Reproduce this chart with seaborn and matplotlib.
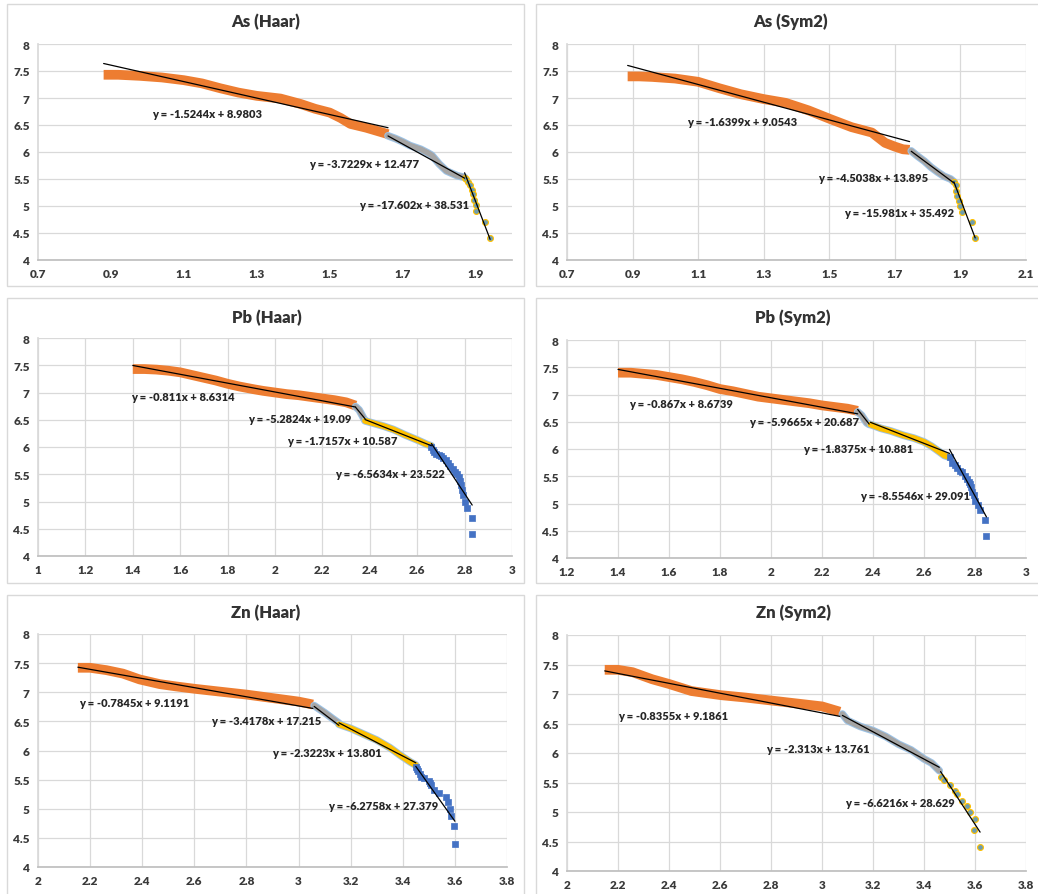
import matplotlib
matplotlib.use("Agg")
import matplotlib.pyplot as plt
from matplotlib.patches import Rectangle
import seaborn as sns
import numpy as np

sns.set_theme(style="white")
plt.rcParams['font.family'] = ['Lato', 'DejaVu Sans']

# ---------------- data ----------------
# As (Haar)
as_haar_s1_x = [0.88, 0.92, 0.98, 1.04, 1.1, 1.15, 1.2, 1.25, 1.3, 1.365, 1.42, 1.46, 1.5, 1.53, 1.557, 1.6, 1.63, 1.66]
as_haar_s1_y = [7.43, 7.43, 7.41, 7.38, 7.33, 7.27, 7.18, 7.10, 7.04, 6.99, 6.89, 6.80, 6.73, 6.63, 6.52, 6.45, 6.39, 6.33]
as_haar_s2_x = [1.66, 1.68, 1.7, 1.72, 1.75, 1.77, 1.78, 1.8, 1.82, 1.85, 1.87]
as_haar_s2_y = [6.30, 6.25, 6.19, 6.12, 6.05, 5.98, 5.94, 5.78, 5.65, 5.56, 5.53]
as_haar_s3_x = [1.87, 1.875, 1.88, 1.885, 1.89, 1.893, 1.895, 1.9, 1.9, 1.925, 1.94]
as_haar_s3_y = [5.52, 5.50, 5.45, 5.38, 5.30, 5.22, 5.12, 5.02, 4.90, 4.70, 4.40]
as_haar_slopes = [-1.5244, -3.7229, -17.602]
as_haar_intercepts = [8.9803, 12.477, 38.531]

# As (Sym2)
as_sym2_s1_x = [0.885, 0.92, 0.96, 1.03, 1.1, 1.165, 1.23, 1.3, 1.367, 1.437, 1.503, 1.568, 1.63, 1.67, 1.7, 1.725, 1.745]
as_sym2_s1_y = [7.40, 7.40, 7.39, 7.36, 7.30, 7.18, 7.07, 6.98, 6.91, 6.77, 6.61, 6.46, 6.36, 6.17, 6.10, 6.05, 6.04]
as_sym2_s2_x = [1.75, 1.77, 1.79, 1.81, 1.83, 1.85, 1.87, 1.88]
as_sym2_s2_y = [6.02, 5.92, 5.83, 5.72, 5.63, 5.55, 5.50, 5.45]
as_sym2_s3_x = [1.88, 1.885, 1.888, 1.89, 1.895, 1.9, 1.905, 1.935, 1.945]
as_sym2_s3_y = [5.45, 5.38, 5.28, 5.18, 5.10, 5.00, 4.88, 4.70, 4.40]
as_sym2_slopes = [-1.6399, -4.5038, -15.981]
as_sym2_intercepts = [9.0543, 13.895, 35.492]

# Pb (Haar)
pb_haar_s1_x = [1.40, 1.45, 1.5, 1.55, 1.6, 1.65, 1.7, 1.75, 1.8, 1.85, 1.91, 1.95, 2.0, 2.05, 2.1, 2.15, 2.2, 2.25, 2.3, 2.34]
pb_haar_s1_y = [7.43, 7.43, 7.42, 7.40, 7.37, 7.32, 7.27, 7.22, 7.16, 7.11, 7.06, 7.03, 7.00, 6.97, 6.95, 6.92, 6.89, 6.86, 6.82, 6.76]
pb_haar_s2_x = [2.34, 2.355, 2.365, 2.375, 2.38]
pb_haar_s2_y = [6.74, 6.68, 6.60, 6.52, 6.49]
pb_haar_s3_x = [2.38, 2.42, 2.46, 2.5, 2.55, 2.6, 2.64, 2.66]
pb_haar_s3_y = [6.48, 6.43, 6.38, 6.32, 6.22, 6.13, 6.05, 6.02]
pb_haar_s4_x = [2.66, 2.665, 2.67, 2.68, 2.69, 2.70, 2.71, 2.72, 2.73, 2.74, 2.75, 2.76, 2.77, 2.775, 2.78, 2.785, 2.79, 2.795, 2.80, 2.81, 2.83, 2.832]
pb_haar_s4_y = [6.00, 5.95, 5.90, 5.87, 5.85, 5.83, 5.80, 5.76, 5.70, 5.65, 5.60, 5.55, 5.50, 5.45, 5.38, 5.30, 5.22, 5.12, 5.00, 4.88, 4.70, 4.40]
pb_haar_slopes = [-0.811, -5.2824, -1.7157, -6.5634]
pb_haar_intercepts = [8.6314, 19.09, 10.587, 23.522]

# Pb (Sym2)
pb_sym2_s1_x = [1.40, 1.45, 1.5, 1.55, 1.6, 1.65, 1.7, 1.75, 1.8, 1.85, 1.9, 1.95, 2.0, 2.05, 2.1, 2.15, 2.2, 2.25, 2.3, 2.34]
pb_sym2_s1_y = [7.40, 7.40, 7.38, 7.36, 7.32, 7.28, 7.23, 7.17, 7.10, 7.06, 7.01, 6.96, 6.93, 6.90, 6.87, 6.84, 6.80, 6.77, 6.74, 6.70]
pb_sym2_s2_x = [2.34, 2.355, 2.365, 2.375, 2.385]
pb_sym2_s2_y = [6.68, 6.62, 6.55, 6.48, 6.45]
pb_sym2_s3_x = [2.39, 2.43, 2.47, 2.52, 2.56, 2.6, 2.63, 2.66, 2.68, 2.70]
pb_sym2_s3_y = [6.45, 6.38, 6.33, 6.25, 6.20, 6.13, 6.05, 5.95, 5.88, 5.85]
pb_sym2_s4_x = [2.70, 2.71, 2.72, 2.73, 2.74, 2.75, 2.76, 2.77, 2.775, 2.78, 2.785, 2.79, 2.795, 2.80, 2.81, 2.82, 2.84, 2.845]
pb_sym2_s4_y = [5.85, 5.75, 5.70, 5.65, 5.60, 5.57, 5.50, 5.45, 5.40, 5.35, 5.30, 5.22, 5.15, 5.05, 4.98, 4.88, 4.70, 4.40]
pb_sym2_slopes = [-0.867, -5.9665, -1.8375, -8.5546]
pb_sym2_intercepts = [8.6739, 20.687, 10.881, 29.091]

# Zn (Haar)
zn_haar_s1_x = [2.153, 2.2, 2.262, 2.326, 2.39, 2.467, 2.53, 2.6, 2.7, 2.8, 2.9, 3.0, 3.055]
zn_haar_s1_y = [7.42, 7.42, 7.38, 7.32, 7.22, 7.14, 7.10, 7.06, 7.01, 6.96, 6.90, 6.84, 6.79]
zn_haar_s2_x = [3.06, 3.08, 3.1, 3.13, 3.155]
zn_haar_s2_y = [6.77, 6.71, 6.65, 6.55, 6.47]
zn_haar_s3_x = [3.155, 3.2, 3.25, 3.3, 3.35, 3.39, 3.43, 3.45]
zn_haar_s3_y = [6.45, 6.38, 6.28, 6.18, 6.05, 5.92, 5.80, 5.75]
zn_haar_s4_x = [3.45, 3.455, 3.46, 3.465, 3.47, 3.48, 3.5, 3.505, 3.51, 3.52, 3.54, 3.565, 3.575, 3.58, 3.585, 3.595, 3.6]
zn_haar_s4_y = [5.72, 5.68, 5.65, 5.60, 5.55, 5.52, 5.48, 5.44, 5.40, 5.33, 5.27, 5.20, 5.12, 5.00, 4.88, 4.70, 4.40]
zn_haar_slopes = [-0.7845, -3.4178, -2.3223, -6.2758]
zn_haar_intercepts = [9.1191, 17.215, 13.801, 27.379]

# Zn (Sym2)
zn_sym2_s1_x = [2.148, 2.2, 2.257, 2.334, 2.4, 2.488, 2.604, 2.7, 2.8, 2.9, 3.0, 3.07]
zn_sym2_s1_y = [7.41, 7.41, 7.37, 7.25, 7.17, 7.05, 6.98, 6.94, 6.89, 6.84, 6.79, 6.70]
zn_sym2_s2_x = [3.08, 3.1, 3.15, 3.2, 3.25, 3.3, 3.35, 3.4, 3.43, 3.46]
zn_sym2_s2_y = [6.66, 6.55, 6.45, 6.38, 6.28, 6.15, 6.05, 5.90, 5.83, 5.70]
zn_sym2_s3_x = [3.465, 3.48, 3.5, 3.52, 3.53, 3.55, 3.57, 3.58, 3.6, 3.595, 3.62]
zn_sym2_s3_y = [5.60, 5.55, 5.45, 5.35, 5.30, 5.18, 5.10, 5.00, 4.88, 4.70, 4.40]
zn_sym2_slopes = [-0.8355, -2.313, -6.6216]
zn_sym2_intercepts = [9.1861, 13.761, 28.629]

titles = ["As (Haar)", "As (Sym2)", "Pb (Haar)", "Pb (Sym2)", "Zn (Haar)", "Zn (Sym2)"]
x_ticks_as_haar = [0.7, 0.9, 1.1, 1.3, 1.5, 1.7, 1.9]
x_ticks_as_sym2 = [0.7, 0.9, 1.1, 1.3, 1.5, 1.7, 1.9, 2.1]
x_ticks_pb_haar = [1, 1.2, 1.4, 1.6, 1.8, 2, 2.2, 2.4, 2.6, 2.8, 3]
x_ticks_pb_sym2 = [1.2, 1.4, 1.6, 1.8, 2, 2.2, 2.4, 2.6, 2.8, 3]
x_ticks_zn = [2, 2.2, 2.4, 2.6, 2.8, 3, 3.2, 3.4, 3.6, 3.8]
y_ticks = [4, 4.5, 5, 5.5, 6, 6.5, 7, 7.5, 8]

# ---------------- styling / layout ----------------
ORANGE = "#ED7D31"
GRAY = "#A5A5A5"
YELLOW = "#FFC000"
BLUE = "#4472C4"
LBLUE = "#9DC3E6"
TEAL = "#6E9DAE"
W, H = 1038, 895

fig = plt.figure(figsize=(W / 100, H / 100), dpi=100)
fig.patch.set_facecolor("white")

def fig_rect(l, t, r, b):
    return [l / W, 1 - b / H, (r - l) / W, (b - t) / H]

panels = [
    dict(title=titles[0], box=(7, 5, 524, 287), title_xy=(266, 22), ax=(38, 45, 512, 261),
         xlim=(0.7, 2.0), xticks=x_ticks_as_haar, vgrid=False,
         series=[(as_haar_s1_x, as_haar_s1_y, "orange"), (as_haar_s2_x, as_haar_s2_y, "gray"),
                 (as_haar_s3_x, as_haar_s3_y, "teal")],
         slopes=as_haar_slopes, intercepts=as_haar_intercepts,
         labels=[(1.163, 6.72), (1.595, 5.79), (1.732, 5.02)]),
    dict(title=titles[1], box=(536, 5, 1045, 287), title_xy=(791, 22), ax=(567, 45, 1026, 261),
         xlim=(0.7, 2.1), xticks=x_ticks_as_sym2, vgrid=True,
         series=[(as_sym2_s1_x, as_sym2_s1_y, "orange"), (as_sym2_s2_x, as_sym2_s2_y, "gray"),
                 (as_sym2_s3_x, as_sym2_s3_y, "teal")],
         slopes=as_sym2_slopes, intercepts=as_sym2_intercepts,
         labels=[(1.235, 6.57), (1.634, 5.52), (1.712, 4.88)]),
    dict(title=titles[2], box=(7, 299, 524, 584), title_xy=(267, 318), ax=(38, 339, 512, 557),
         xlim=(1, 3), xticks=x_ticks_pb_haar, vgrid=True,
         series=[(pb_haar_s1_x, pb_haar_s1_y, "orange"), (pb_haar_s2_x, pb_haar_s2_y, "gray"),
                 (pb_haar_s3_x, pb_haar_s3_y, "yellow"), (pb_haar_s4_x, pb_haar_s4_y, "blue")],
         slopes=pb_haar_slopes, intercepts=pb_haar_intercepts,
         labels=[(1.613, 6.92), (2.103, 6.52), (2.282, 6.12), (2.486, 5.52)]),
    dict(title=titles[3], box=(536, 299, 1045, 584), title_xy=(793, 318), ax=(567, 341, 1026, 559),
         xlim=(1.2, 3), xticks=x_ticks_pb_sym2, vgrid=True,
         series=[(pb_sym2_s1_x, pb_sym2_s1_y, "orange"), (pb_sym2_s2_x, pb_sym2_s2_y, "gray"),
                 (pb_sym2_s3_x, pb_sym2_s3_y, "yellow"), (pb_sym2_s4_x, pb_sym2_s4_y, "blue")],
         slopes=pb_sym2_slopes, intercepts=pb_sym2_intercepts,
         labels=[(1.646, 6.83), (2.13, 6.51), (2.343, 6.0), (2.565, 5.14)]),
    dict(title=titles[4], box=(7, 596, 524, 900), title_xy=(266, 613), ax=(38, 635, 507, 868),
         xlim=(2, 3.8), xticks=x_ticks_zn, vgrid=True,
         series=[(zn_haar_s1_x, zn_haar_s1_y, "orange"), (zn_haar_s2_x, zn_haar_s2_y, "gray"),
                 (zn_haar_s3_x, zn_haar_s3_y, "yellow"), (zn_haar_s4_x, zn_haar_s4_y, "blue")],
         slopes=zn_haar_slopes, intercepts=zn_haar_intercepts,
         labels=[(2.368, 6.82), (2.876, 6.52), (3.11, 5.96), (3.324, 5.06)]),
    dict(title=titles[5], box=(536, 596, 1045, 900), title_xy=(793, 613), ax=(567, 636, 1026, 872),
         xlim=(2, 3.8), xticks=x_ticks_zn, vgrid=True,
         series=[(zn_sym2_s1_x, zn_sym2_s1_y, "orange"), (zn_sym2_s2_x, zn_sym2_s2_y, "gray"),
                 (zn_sym2_s3_x, zn_sym2_s3_y, "teal")],
         slopes=zn_sym2_slopes, intercepts=zn_sym2_intercepts,
         labels=[(2.415, 6.64), (2.983, 6.08), (3.305, 5.16)]),
]

def fmt(v):
    return f"{v:g}"

for p in panels:
    l, t, r, b = p["box"]
    fig.add_artist(Rectangle((l / W, 1 - b / H), (r - l) / W, (b - t) / H,
                             transform=fig.transFigure, fill=False,
                             edgecolor="#D9D9D9", linewidth=1.0))
    fig.text(p["title_xy"][0] / W, 1 - p["title_xy"][1] / H, p["title"],
             ha="center", va="center", fontsize=12, fontweight="heavy", color="#333333")

    ax = fig.add_axes(fig_rect(*p["ax"]))
    ax.set_facecolor("white")
    ax.set_xlim(*p["xlim"])
    ax.set_ylim(4, 8)
    ax.set_xticks(p["xticks"])
    ax.set_xticklabels([fmt(v) for v in p["xticks"]])
    ax.set_yticks(y_ticks)
    ax.set_yticklabels([fmt(v) for v in y_ticks])
    ax.grid(axis="y", color="#D9D9D9", linewidth=0.9)
    if p["vgrid"]:
        ax.grid(axis="x", color="#D9D9D9", linewidth=0.9)
    ax.set_axisbelow(True)
    for s in ["top", "right"]:
        ax.spines[s].set_visible(False)
    ax.spines["left"].set_color("#D9D9D9")
    ax.spines["bottom"].set_color("#BFBFBF")
    ax.tick_params(axis="both", length=0, labelsize=8.5, labelcolor="#3A3A3A")
    ax.tick_params(axis="x", pad=6)
    ax.tick_params(axis="y", pad=6)
    for lab in ax.get_xticklabels() + ax.get_yticklabels():
        lab.set_fontweight("heavy")

    for xs, ys, kind in p["series"]:
        if kind == "orange":
            sns.lineplot(x=xs, y=ys, sort=False, ax=ax, color=ORANGE, linewidth=7,
                         solid_capstyle="butt", estimator=None)
        elif kind == "gray":
            sns.lineplot(x=xs, y=ys, sort=False, ax=ax, color=LBLUE, linewidth=5.5, estimator=None)
            sns.lineplot(x=xs, y=ys, sort=False, ax=ax, color=GRAY, linewidth=4, estimator=None)
        elif kind == "yellow":
            sns.lineplot(x=xs, y=ys, sort=False, ax=ax, color=LBLUE, linewidth=5.5, estimator=None)
            sns.lineplot(x=xs, y=ys, sort=False, ax=ax, color=YELLOW, linewidth=4.2, estimator=None)
        elif kind == "blue":
            sns.scatterplot(x=xs, y=ys, ax=ax, color=BLUE, marker="s", s=20,
                            edgecolor=BLUE, linewidth=0.5, zorder=3)
        elif kind == "teal":
            sns.scatterplot(x=xs, y=ys, ax=ax, color=TEAL, marker="o", s=18,
                            edgecolor=YELLOW, linewidth=0.8, zorder=3)

    for (xs, ys, kind), m, c in zip(p["series"], p["slopes"], p["intercepts"]):
        x0, x1 = min(xs), max(xs)
        tx = [x0, x1]
        ty = [m * x0 + c, m * x1 + c]
        sns.lineplot(x=tx, y=ty, ax=ax, color="black", linewidth=0.9, estimator=None, zorder=4)

    for (lx, ly), m, c in zip(p["labels"], p["slopes"], p["intercepts"]):
        ax.text(lx, ly, f"y = {fmt(m)}x + {fmt(c)}", ha="center", va="center",
                fontsize=8, fontweight="heavy", color="#262626", zorder=5)

fig.savefig("out.png", dpi=100, facecolor="white")
